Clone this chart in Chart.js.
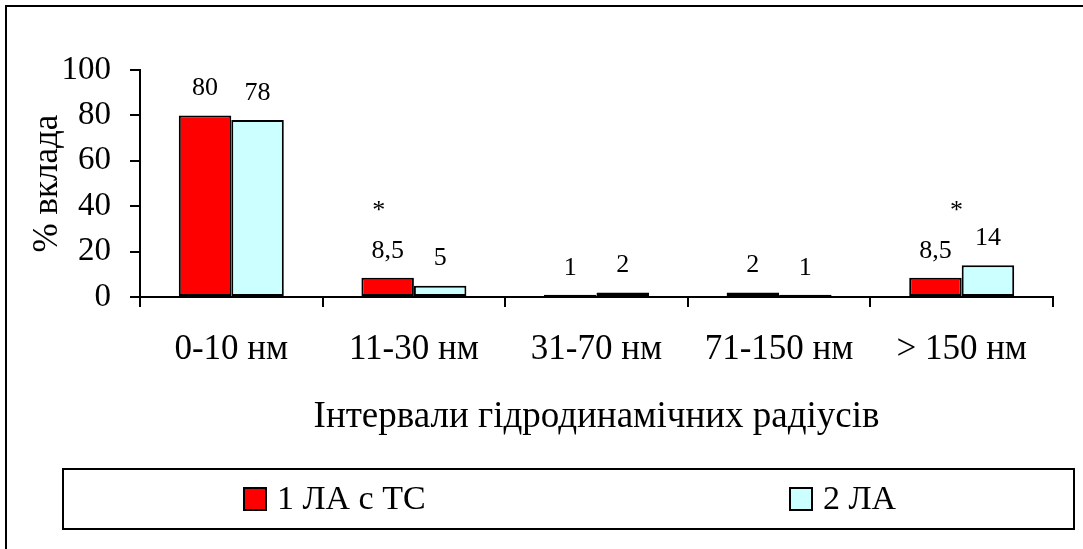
<!DOCTYPE html>
<html>
<head>
<meta charset="utf-8">
<script src="https://cdn.jsdelivr.net/npm/chart.js@4.4.1/dist/chart.umd.min.js"></script>
<style>
  html, body { margin: 0; padding: 0; background: #fff; }
  #wrap { width: 1083px; height: 549px; }
</style>
</head>
<body>
<div id="wrap"><canvas id="sizeChart" width="1083" height="549"></canvas></div>
<script>
// chart data
const categories = ['0-10 нм', '11-30 нм', '31-70 нм', '71-150 нм', '> 150 нм'];
const seriesNames = ['1 ЛА с ТС', '2 ЛА'];
const series1 = [80, 8.5, 1, 2, 8.5];
const series2 = [78, 5, 2, 1, 14];
const significance = ['', '*', '', '', '*'];
const yTicks = [0, 20, 40, 60, 80, 100];
const xTitle = 'Інтервали гідродинамічних радіусів';
const yTitle = '% вклада';

const serif = "'Liberation Serif', 'Times New Roman', serif";

const fmt = (v) => String(v).replace('.', ',');

// value labels above bars + significance stars
const valueLabels = {
  id: 'valueLabels',
  afterDatasetsDraw(chart) {
    const ctx = chart.ctx;
    ctx.save();
    ctx.fillStyle = '#000';
    ctx.textAlign = 'center';
    ctx.textBaseline = 'middle';
    ctx.font = `26px ${serif}`;
    chart.data.datasets.forEach((ds, i) => {
      chart.getDatasetMeta(i).data.forEach((bar, j) => {
        ctx.fillText(fmt(ds.data[j]), bar.x, bar.y - 27);
      });
    });
    const redBars = chart.getDatasetMeta(0).data;
    const nudge = { 1: -9, 4: 21 };
    significance.forEach((s, j) => {
      if (!s) return;
      ctx.fillText(s, redBars[j].x + (nudge[j] || 0), redBars[j].y - 67);
    });
    ctx.restore();
  }
};

// boxed legend + outer frame, drawn like the Excel original
const boxLegend = {
  id: 'boxLegend',
  afterDraw(chart) {
    const ctx = chart.ctx;
    ctx.save();
    ctx.strokeStyle = '#000';
    ctx.lineWidth = 2;
    // outer frame (cropped on right and bottom)
    ctx.beginPath();
    ctx.moveTo(6, 560);
    ctx.lineTo(6, 6);
    ctx.lineTo(1090, 6);
    ctx.stroke();
    // legend box
    ctx.strokeRect(63, 469, 1011, 60);
    const itemX = [244, 790];
    const midY = 499;
    ctx.font = `34px ${serif}`;
    ctx.textBaseline = 'middle';
    ctx.textAlign = 'left';
    chart.data.datasets.forEach((ds, i) => {
      const x = itemX[i];
      ctx.fillStyle = ds.backgroundColor;
      ctx.fillRect(x, midY - 11, 22, 22);
      ctx.strokeRect(x, midY - 11, 22, 22);
      ctx.fillStyle = '#000';
      ctx.fillText(ds.label, x + 33, midY + 1);
    });
    ctx.restore();
  }
};

const ctx = document.getElementById('sizeChart').getContext('2d');
const chart = new Chart(ctx, {
  type: 'bar',
  data: {
    labels: categories,
    datasets: [
      {
        label: seriesNames[0],
        data: series1,
        backgroundColor: '#FF0000',
        borderColor: '#000',
        borderWidth: 2,
        borderSkipped: false,
        categoryPercentage: 0.575,
        barPercentage: 1.0,
      },
      {
        label: seriesNames[1],
        data: series2,
        backgroundColor: '#CCFFFF',
        borderColor: '#000',
        borderWidth: 2,
        borderSkipped: false,
        categoryPercentage: 0.575,
        barPercentage: 1.0,
      },
    ],
  },
  options: {
    responsive: false,
    animation: false,
    layout: { padding: { top: 70, right: 30, left: 0, bottom: 0 } },
    plugins: {
      legend: { display: false },
      tooltip: { enabled: false },
    },
    scales: {
      x: {
        offset: true,
        grid: {
          offset: true,
          drawOnChartArea: false,
          drawTicks: true,
          tickLength: 10,
          color: '#000',
          lineWidth: 2,
        },
        border: { display: true, color: '#000', width: 2 },
        ticks: {
          color: '#000',
          font: { family: serif, size: 35 },
          padding: 22,
          maxRotation: 0,
          autoSkip: false,
        },
        title: {
          display: true,
          text: xTitle,
          color: '#000',
          font: { family: serif, size: 37 },
          padding: { top: 0, bottom: 110 },
        },
        afterFit(scale) { scale.height = 252; },
      },
      y: {
        min: 0,
        max: 100,
        afterBuildTicks(scale) { scale.ticks = yTicks.map((v) => ({ value: v })); },
        ticks: {
          color: '#000',
          font: { family: serif, size: 33 },
          padding: 19,
        },
        grid: {
          drawOnChartArea: false,
          drawTicks: true,
          tickLength: 10,
          color: '#000',
          lineWidth: 2,
        },
        border: { display: true, color: '#000', width: 2 },
        title: {
          display: true,
          text: yTitle,
          color: '#000',
          font: { family: serif, size: 35 },
          padding: { top: 27, bottom: 0 },
        },
        afterFit(scale) { scale.width = 140; },
      },
    },
  },
  plugins: [valueLabels, boxLegend],
});
</script>
</body>
</html>
